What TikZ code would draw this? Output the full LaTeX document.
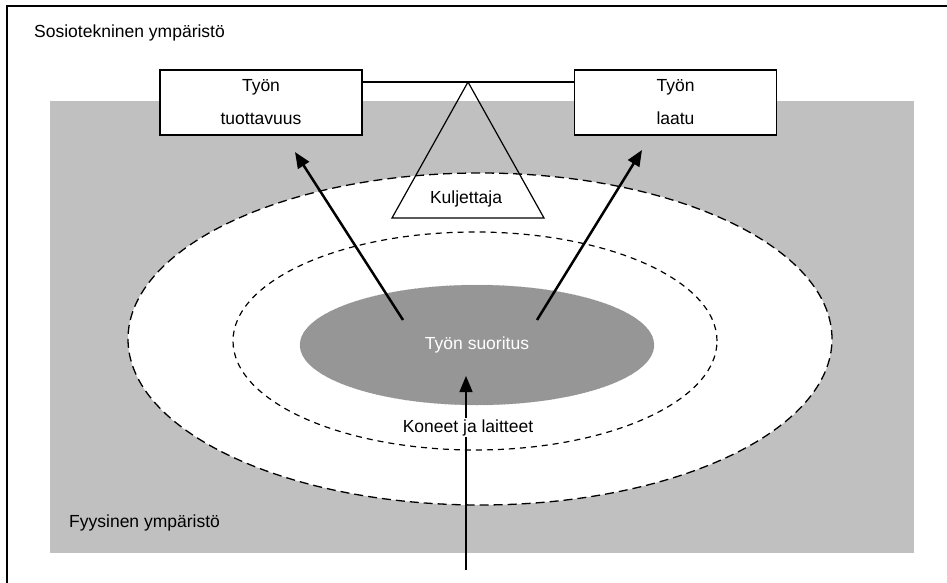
\documentclass[tikz,border=0pt]{standalone}
\usepackage{fontspec}
\setmainfont{Liberation Sans}
\usetikzlibrary{arrows.meta}
\definecolor{taustaharmaa}{HTML}{C0C0C0}
\definecolor{suoritusharmaa}{HTML}{969696}
\tikzset{
	laatikko/.style={draw, line width=1.2pt, fill=white, minimum width=202pt, minimum height=65pt, align=center, inner sep=0pt, font=\fontsize{17.5}{33}\selectfont},
	teksti/.style={font=\fontsize{17.5}{21}\selectfont, inner sep=1pt},
	nuoli/.style={-{Triangle[length=16pt,width=13pt]}, line width=2.5pt}
}

\begin{document}
\begin{tikzpicture}[x=1pt, y=-1pt]
			%%%%% START %%%%%
			\useasboundingbox (0, 0) rectangle (947, 583);
			
			\draw[line width=1.5pt] (7, 583) -- (7, 6) -- (947, 6);
			\node[teksti, anchor=base west] (sosio) at (33, 38) {Sosiotekninen ympäristö};
			
			\fill[taustaharmaa] (50, 101) rectangle (914, 553);
			
			\draw[fill=white, line width=1.3pt, dash pattern=on 9pt off 5pt] (480, 339) ellipse [x radius=352pt, y radius=166pt];
			\draw[line width=1.2pt, dash pattern=on 6pt off 5pt] (475, 341) ellipse [x radius=242pt, y radius=109pt];
			\draw[fill=suoritusharmaa, draw=gray, densely dotted] (477, 345) ellipse [x radius=177pt, y radius=60pt];
			
			\draw[line width=1.2pt] (392, 218) -- (468, 82) -- (544, 218) -- cycle;
			\node[teksti, anchor=base] (kuljettaja) at (466, 203) {Kuljettaja};
			
			\node[laatikko] (tuottavuus) at (261, 102.5) {Työn\\tuottavuus};
			\node[laatikko] (laatu) at (675.5, 102.5) {Työn\\laatu};
			\draw[line width=1.2pt] (tuottavuus.east |- 0, 82) -- (laatu.west |- 0, 82);
			
			\node[teksti, anchor=base, text=white] (suoritus) at (477, 349) {Työn suoritus};
			\coordinate (vasen) at (403, 320);
			\coordinate (oikea) at (537, 320);
			\draw[nuoli] (vasen) -- (295, 152);
			\draw[nuoli] (oikea) -- (642, 150);
			
			\coordinate (alku) at (466, 570);
			\draw[nuoli, line width=1.5pt] (alku) -- (466, 376);
			\node[teksti, anchor=base, fill=white] (koneet) at (468, 432) {Koneet ja laitteet};
			
			\node[teksti, anchor=base west] (fyysinen) at (68, 527) {Fyysinen ympäristö};
			%%%%% END %%%%%
\end{tikzpicture}
\end{document}
